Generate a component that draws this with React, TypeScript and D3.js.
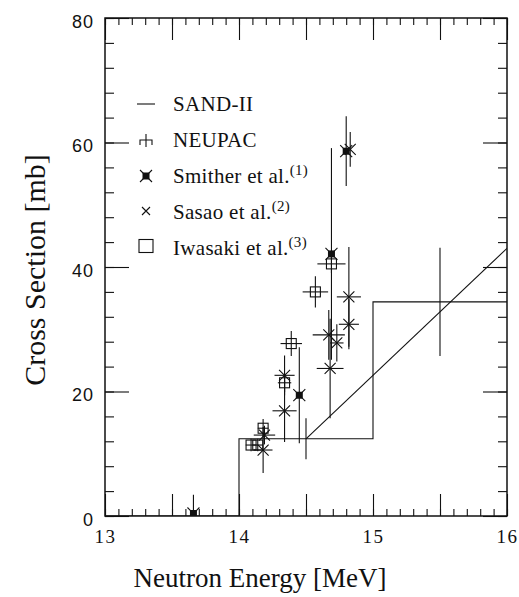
import { useEffect, useRef } from 'react';
import * as d3 from 'd3';

// NEUPAC: 1 MeV groups with errors
const neupacEdges = [13, 14, 15, 16];
const neupacValues = [0, 12.4, 34.4];
const neupacErrors = [0, 3.3, 8.7];

// SAND-II
const sandEnergy = [14.5, 16];
const sandValue = [12.4, 43.0];

// Smither et al.(1)
const smitherE = [13.66, 14.45, 14.69, 14.8];
const smitherV = [0.4, 19.4, 42.1, 58.6];
const smitherDE = [0, 0, 0, 0];
const smitherDV = [3.0, 7.7, 17, 5.6];

// Sasao et al.(2)
const sasaoE = [14.18, 14.19, 14.34, 14.34, 14.67, 14.73, 14.68, 14.82, 14.82, 14.83];
const sasaoV = [10.6, 13.0, 16.9, 22.6, 29.1, 27.8, 23.7, 30.8, 35.2, 58.9];
const sasaoDE = [0.07, 0.08, 0.09, 0.075, 0.12, 0.05, 0.1, 0.075, 0.09, 0];
const sasaoDV = [3.7, 1.5, 5.0, 3.2, 4.0, 3.0, 8.0, 4.0, 8.0, 2.8];

// Iwasaki et al.(3)
const iwasakiE = [14.09, 14.14, 14.18, 14.34, 14.39, 14.57, 14.69];
const iwasakiV = [11.4, 11.4, 14.1, 21.4, 27.7, 36.0, 40.5];
const iwasakiDE = [0.04, 0.04, 0.04, 0.05, 0.08, 0.095, 0.105];
const iwasakiDV = [1.0, 1.0, 1.5, 1.5, 2.0, 2.5, 1.5];

const xTickLabels = [13, 14, 15, 16];
const yTickLabels = [0, 20, 40, 60, 80];

const legendLabels = ['SAND-II', 'NEUPAC', 'Smither et al.', 'Sasao et al.', 'Iwasaki et al.'];
const legendRefs = ['', '', '(1)', '(2)', '(3)'];

const serif = '"Liberation Serif", "DejaVu Serif", serif';

function pts(e: number[], v: number[], de: number[], dv: number[]) {
  return e.map((d, i) => ({ e: d, v: v[i], de: de[i], dv: dv[i] }));
}

function Chart() {
  const ref = useRef<SVGSVGElement>(null);

  useEffect(() => {
    const width = 519;
    const height = 597;
    const left = 105, right = 507, top = 18, bottom = 516;
    const svg = d3.select(ref.current).attr('width', width).attr('height', height);
    svg.selectAll('*').remove();

    const x = d3.scaleLinear().domain([13, 16]).range([left, right]);
    const y = d3.scaleLinear().domain([0, 80]).range([bottom, top]);

    svg.append('defs').append('clipPath').attr('id', 'plot')
      .append('rect').attr('x', left).attr('y', top)
      .attr('width', right - left).attr('height', bottom - top);

    // ticks (inward, both sides)
    const tickAxis = (axis: any, tf: string, vals: number[], size: number) => {
      svg.append('g')
        .attr('transform', tf)
        .call(axis.tickValues(vals).tickSize(size).tickFormat(() => ''))
        .call((g: any) => g.select('.domain').remove())
        .selectAll('line').attr('stroke', '#111').attr('stroke-width', 1.1);
    };
    const xMinor = d3.range(13, 16.001, 0.1).map(d => +d.toFixed(1));
    const xMajor = d3.range(13, 16.001, 0.5);
    const yMinor = d3.range(0, 80.001, 4);
    const yMajor = d3.range(0, 80.001, 20);
    tickAxis(d3.axisBottom(x), `translate(0,${bottom})`, xMinor, -7);
    tickAxis(d3.axisBottom(x), `translate(0,${bottom})`, xMajor, -22);
    tickAxis(d3.axisTop(x), `translate(0,${top})`, xMinor, -7);
    tickAxis(d3.axisTop(x), `translate(0,${top})`, xMajor, -22);
    tickAxis(d3.axisLeft(y), `translate(${left},0)`, yMinor, -9);
    tickAxis(d3.axisLeft(y), `translate(${left},0)`, yMajor, -24);
    tickAxis(d3.axisRight(y), `translate(${right},0)`, yMinor, -9);
    tickAxis(d3.axisRight(y), `translate(${right},0)`, yMajor, -24);

    // tick labels
    const xl = svg.append('g')
      .attr('transform', `translate(0,${bottom})`)
      .call(d3.axisBottom(x).tickValues(xTickLabels).tickSize(0).tickPadding(14).tickFormat(d3.format('d')));
    xl.select('.domain').remove();
    xl.selectAll('text').attr('font-family', serif).attr('font-size', 19)
      .attr('letter-spacing', 1.5).attr('fill', '#111');

    const yl = svg.append('g')
      .attr('transform', `translate(${left},0)`)
      .call(d3.axisLeft(y).tickValues(yTickLabels).tickSize(0).tickPadding(11).tickFormat(d3.format('d')));
    yl.select('.domain').remove();
    yl.selectAll('text').attr('font-family', '"Liberation Sans", Arial, sans-serif')
      .attr('font-size', 18).attr('letter-spacing', 1).attr('dy', '0.5em').attr('fill', '#111');

    // frame
    svg.append('rect').attr('x', left).attr('y', top)
      .attr('width', right - left).attr('height', bottom - top)
      .attr('fill', 'none').attr('stroke', '#111').attr('stroke-width', 1.5);

    const plot = svg.append('g').attr('clip-path', 'url(#plot)')
      .attr('stroke', '#111').attr('stroke-width', 1.1).attr('fill', 'none');

    // NEUPAC histogram
    const steps = neupacEdges.map((e, i) => [e, neupacValues[Math.min(i, neupacValues.length - 1)]] as [number, number]);
    plot.append('path')
      .attr('d', d3.line<[number, number]>().x(d => x(d[0])).y(d => y(d[1])).curve(d3.curveStepAfter)(steps));
    neupacValues.forEach((v, i) => {
      if (!neupacErrors[i]) return;
      const c = (neupacEdges[i] + neupacEdges[i + 1]) / 2;
      plot.append('line').attr('x1', x(c)).attr('x2', x(c))
        .attr('y1', y(v - neupacErrors[i])).attr('y2', y(v + neupacErrors[i]));
    });

    // SAND-II
    plot.append('path')
      .attr('d', d3.line<number>().x(d => x(d)).y((d, i) => y(sandValue[i]))(sandEnergy));

    const errorBars = (data: any[]) => {
      data.forEach(p => {
        if (p.dv) plot.append('line').attr('x1', x(p.e)).attr('x2', x(p.e))
          .attr('y1', y(p.v - p.dv)).attr('y2', y(p.v + p.dv));
        if (p.de) plot.append('line').attr('x1', x(p.e - p.de)).attr('x2', x(p.e + p.de))
          .attr('y1', y(p.v)).attr('y2', y(p.v));
      });
    };

    const smither = pts(smitherE, smitherV, smitherDE, smitherDV);
    const sasao = pts(sasaoE, sasaoV, sasaoDE, sasaoDV);
    const iwasaki = pts(iwasakiE, iwasakiV, iwasakiDE, iwasakiDV);
    errorBars(smither);
    errorBars(sasao);
    errorBars(iwasaki);

    const cross = (g: any, cx: number, cy: number, r: number) => {
      g.append('path').attr('d', `M${cx - r},${cy - r}L${cx + r},${cy + r}M${cx - r},${cy + r}L${cx + r},${cy - r}`)
        .attr('stroke', '#111').attr('stroke-width', 1.1).attr('fill', 'none');
    };
    const box = (g: any, cx: number, cy: number, w: number, h: number) => {
      g.append('rect').attr('x', cx - w / 2).attr('y', cy - h / 2).attr('width', w).attr('height', h)
        .attr('stroke', '#111').attr('stroke-width', 1.1).attr('fill', 'none');
    };
    const filled = (g: any, cx: number, cy: number) => {
      g.append('rect').attr('x', cx - 3.5).attr('y', cy - 3.5).attr('width', 7).attr('height', 7)
        .attr('fill', '#111').attr('stroke', 'none');
      cross(g, cx, cy, 6);
    };

    const marks = svg.append('g').attr('clip-path', 'url(#plot)');
    iwasaki.forEach(p => box(marks, x(p.e), y(p.v), 10, 10));
    sasao.forEach(p => cross(marks, x(p.e), y(p.v), 5.5));
    smither.forEach(p => filled(marks, x(p.e), y(p.v)));

    // legend
    const lg = svg.append('g');
    const base = 111, step = 36, sx = 146, tx = 173;
    legendLabels.forEach((label, i) => {
      const t = lg.append('text').attr('x', tx).attr('y', base + i * step)
        .attr('font-family', serif).attr('font-size', 21).attr('letter-spacing', 0.3)
        .attr('fill', '#111').text(label);
      if (legendRefs[i]) t.append('tspan').attr('font-size', 15).attr('dy', -8).text(legendRefs[i]);
    });
    const sym = lg.append('g').attr('stroke', '#111').attr('stroke-width', 1.1).attr('fill', 'none');
    const cy = (i: number) => base + i * step - 7;
    sym.append('line').attr('x1', sx - 9).attr('x2', sx + 9).attr('y1', cy(0)).attr('y2', cy(0));
    sym.append('path').attr('d',
      `M${sx - 6},${cy(1) + 5}V${cy(1)}H${sx + 6}V${cy(1) + 5}M${sx},${cy(1) - 6}V${cy(1) + 7}`);
    filled(lg, sx, cy(2));
    cross(lg, sx, cy(3) - 1, 4);
    box(lg, sx, cy(4) - 2, 14, 13);

    // axis titles
    svg.append('text').attr('x', 260).attr('y', 587).attr('text-anchor', 'middle')
      .attr('font-family', serif).attr('font-size', 27).attr('fill', '#111')
      .text('Neutron Energy [MeV]');
    svg.append('text').attr('transform', 'translate(45,270) rotate(-90)').attr('text-anchor', 'middle')
      .attr('font-family', serif).attr('font-size', 30).attr('fill', '#111')
      .text('Cross Section [mb]');
  }, []);

  return <svg ref={ref} style={{ position: 'absolute', left: 0, top: 0, background: '#fff' }} />;
}

export default function App() {
  return <Chart />;
}
